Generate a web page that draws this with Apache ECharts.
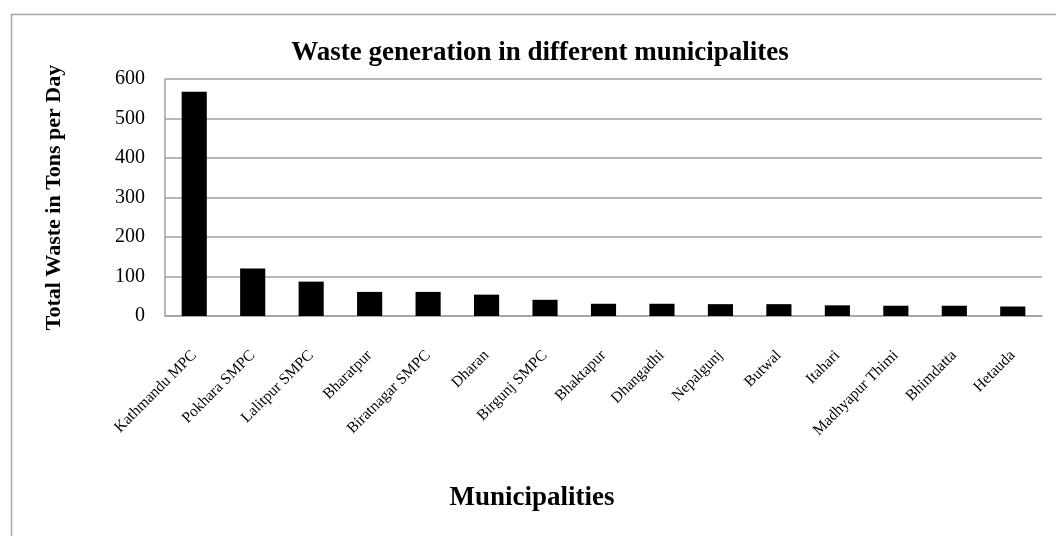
<!DOCTYPE html>
<html>
<head>
<meta charset="utf-8">
<script src="https://cdn.jsdelivr.net/npm/echarts@6/dist/echarts.min.js"></script>
<style>
html,body{margin:0;padding:0;background:#fff;}
#chart{width:1056px;height:536px;}
</style>
</head>
<body>
<div id="chart"></div>
<script>
const categories = ["Kathmandu MPC","Pokhara SMPC","Lalitpur SMPC","Bharatpur","Biratnagar SMPC","Dharan","Birgunj SMPC","Bhaktapur","Dhangadhi","Nepalgunj","Butwal","Itahari","Madhyapur Thimi","Bhimdatta","Hetauda"];
const wasteTonsPerDay = [568, 120, 87, 61, 61, 54, 41, 31, 31, 30, 30, 27, 26, 26, 24];
const yTicks = [0, 100, 200, 300, 400, 500, 600];
const titleText = "Waste generation in different municipalites";
const yAxisTitle = "Total Waste in Tons per Day";
const xAxisTitle = "Municipalities";

const serif = "Liberation Serif";
const chart = echarts.init(document.getElementById('chart'), null, {renderer:'canvas'});
chart.setOption({
  animation:false,
  backgroundColor:'#fff',
  graphic:[
    {type:'rect', left:9, top:12, shape:{x:0,y:0,width:1100,height:600}, style:{fill:'none', stroke:'#a6a6a6', lineWidth:1.5}, silent:true},
    {type:'text', x:540, y:53, style:{text:titleText, font:'bold 27px "Liberation Serif"', fill:'#000', textAlign:'center', textVerticalAlign:'middle'}},
    {type:'text', x:532, y:498, style:{text:xAxisTitle, font:'bold 27px "Liberation Serif"', fill:'#000', textAlign:'center', textVerticalAlign:'middle'}}
  ],
  grid:{left:165, right:14, top:79, bottom:220, containLabel:false},
  xAxis:{
    type:'category', data:categories,
    axisLine:{show:true, lineStyle:{color:'#a0a0a0', width:1.5}},
    axisTick:{show:false},
    axisLabel:{rotate:45, interval:0, margin:37, fontFamily:serif, fontSize:15.5, color:'#000'}
  },
  yAxis:{
    type:'value', min:yTicks[0], max:yTicks[yTicks.length-1], interval:100,
    name:yAxisTitle, nameLocation:'middle', nameGap:100,
    nameTextStyle:{fontFamily:serif, fontWeight:'bold', fontSize:22, color:'#000'},
    axisLine:{show:true, lineStyle:{color:'#a0a0a0', width:1.5}},
    axisTick:{show:false},
    axisLabel:{margin:20, fontFamily:serif, fontSize:20, color:'#000'},
    splitLine:{show:true, lineStyle:{color:'#a0a0a0', width:1.5}}
  },
  series:[{
    type:'bar', data:wasteTonsPerDay, barWidth:'43%',
    itemStyle:{color:'#000'}
  }]
});
</script>
</body>
</html>
